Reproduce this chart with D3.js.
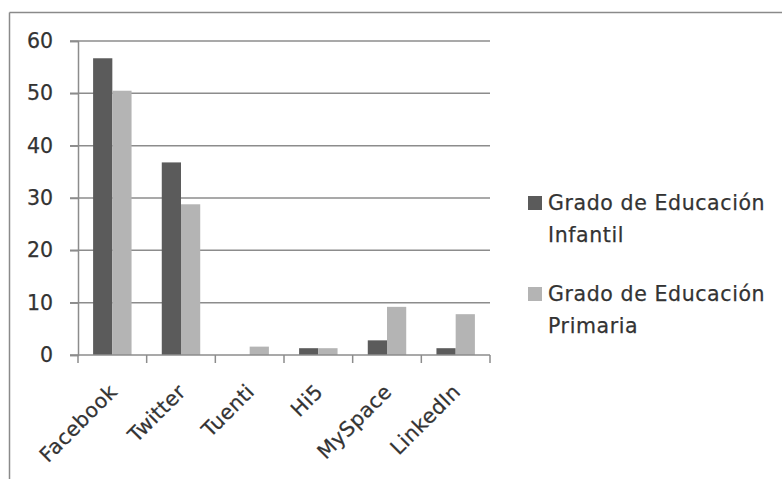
<!DOCTYPE html>
<html>
<head>
<meta charset="utf-8">
<script src="https://cdn.jsdelivr.net/npm/d3@7"></script>
<style>
  html, body { margin: 0; padding: 0; background: #fff; }
  svg { display: block; }
  text { font-family: "DejaVu Sans", Verdana, sans-serif; fill: #333; stroke: #333; stroke-width: 0.25px; }
</style>
</head>
<body>
<svg id="chart" width="782" height="479"></svg>
<script>
const categories = ["Facebook", "Twitter", "Tuenti", "Hi5", "MySpace", "LinkedIn"];
const seriesNames = ["Grado de Educación Infantil", "Grado de Educación Primaria"];
const legendLines = [["Grado de Educación", "Infantil"], ["Grado de Educación", "Primaria"]];
const infantil = [56.7, 36.8, 0, 1.3, 2.8, 1.3];
const primaria = [50.5, 28.8, 1.6, 1.3, 9.2, 7.8];
const yTicks = [0, 10, 20, 30, 40, 50, 60];
const colors = ["#5b5b5b", "#b4b4b4"];

const svg = d3.select("#chart");

// outer frame (top and left edges visible)
svg.append("line").attr("x1", 9.5).attr("x2", 782).attr("y1", 12.5).attr("y2", 12.5)
  .attr("stroke", "#8a8a8a").attr("stroke-width", 1.5);
svg.append("line").attr("x1", 9.5).attr("x2", 9.5).attr("y1", 12.5).attr("y2", 479)
  .attr("stroke", "#8a8a8a").attr("stroke-width", 1.5);

const x0 = d3.scaleBand().domain(categories).range([78, 490]).paddingInner(0.44).paddingOuter(0.22);
const xOuter = d3.scaleBand().domain(categories).range([78, 490]);
const x1 = d3.scaleBand().domain([0, 1]).range([0, x0.bandwidth()]);
const y = d3.scaleLinear().domain([0, 60]).range([355, 41]);

// gridlines
svg.append("g").selectAll("line").data(yTicks.filter(d => d > 0)).join("line")
  .attr("x1", 70).attr("x2", 490)
  .attr("y1", d => y(d)).attr("y2", d => y(d))
  .attr("stroke", "#8c8c8c").attr("stroke-width", 1.5);

// y axis
const yAxis = svg.append("g").attr("transform", "translate(78,0)")
  .call(d3.axisLeft(y).tickValues(yTicks).tickSize(8).tickPadding(17));
yAxis.select(".domain").attr("stroke", "#8c8c8c").attr("stroke-width", 1.5);
yAxis.selectAll(".tick line").attr("stroke", "#8c8c8c").attr("stroke-width", 1.5);
yAxis.selectAll("text").style("font-size", "20.5px").style("fill", "#333")
  .style("font-family", '"DejaVu Sans", Verdana, sans-serif');

// bars
const series = [infantil, primaria];
const g = svg.append("g");
series.forEach((vals, si) => {
  g.append("g").selectAll("rect").data(categories).join("rect")
    .attr("x", c => x0(c) + x1(si))
    .attr("width", x1.bandwidth())
    .attr("y", (c, i) => y(vals[i]))
    .attr("height", (c, i) => y(0) - y(vals[i]))
    .attr("fill", colors[si]);
});

// x axis
const xAxis = svg.append("g").attr("transform", `translate(0,${y(0)})`);
xAxis.append("line").attr("x1", 70).attr("x2", 490).attr("y1", 0).attr("y2", 0)
  .attr("stroke", "#8c8c8c").attr("stroke-width", 1.5);
const tickPos = categories.map(c => xOuter(c)).concat([xOuter.range()[1]]);
xAxis.selectAll("line.tk").data(tickPos).join("line").attr("class", "tk")
  .attr("x1", d => d).attr("x2", d => d).attr("y1", 0).attr("y2", 8)
  .attr("stroke", "#8c8c8c").attr("stroke-width", 1.5);
xAxis.selectAll("text").data(categories).join("text")
  .attr("text-anchor", "end")
  .attr("transform", c => `translate(${xOuter(c) + xOuter.bandwidth() / 2 + 6},${38}) rotate(-45)`)
  .style("font-size", "20.5px")
  .style("letter-spacing", "0.4px")
  .text(c => c);

// legend
const legend = svg.append("g");
legendLines.forEach((lines, i) => {
  const top = 196 + i * 91;
  legend.append("rect").attr("x", 528).attr("y", top).attr("width", 14).attr("height", 14)
    .attr("fill", colors[i]);
  lines.forEach((t, j) => {
    legend.append("text").attr("x", 548).attr("y", top + 14 + j * 32)
      .style("font-size", "20.5px").style("letter-spacing", "0.6px").text(t);
  });
});
</script>
</body>
</html>
